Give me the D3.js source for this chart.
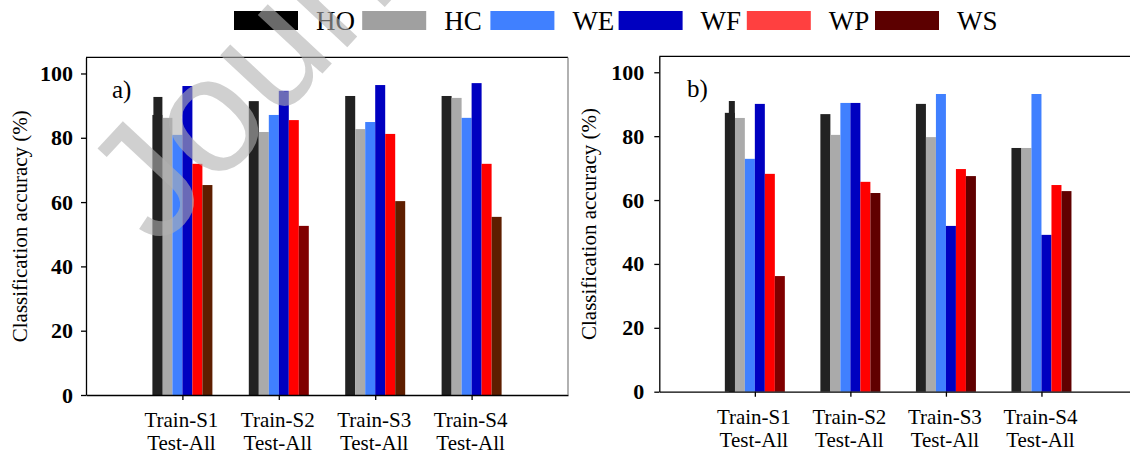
<!DOCTYPE html>
<html>
<head>
<meta charset="utf-8">
<script src="https://cdn.jsdelivr.net/npm/d3@7"></script>
<style>
  body { margin: 0; background: #fff; }
  svg { display: block; }
  text { font-family: "Liberation Serif", "Times New Roman", serif; }
</style>
</head>
<body>
<svg width="1130" height="456"></svg>
<script>
// ---- data ----
var groups = ["Train-S1", "Train-S2", "Train-S3", "Train-S4"];
var testLabel = "Test-All";
var series = ["HO", "HC", "WE", "WF", "WP", "WS"];
var yTicks = [0, 20, 40, 60, 80, 100];

// panel a
var hoA  = [87.1, 91.4, 93.0, 93.0];
var hoA2 = [92.7, null, null, null];   // second (overlapping) HO bar
var hcA  = [86.2, 81.8, 82.7, 92.4];
var weA  = [80.9, 87.1, 84.9, 86.2];
var wfA  = [96.1, 94.6, 96.4, 97.0];
var wpA  = [71.9, 85.5, 81.2, 71.9];
var wsA  = [65.3, 52.6, 60.3, 55.4];

// panel b
var hoB  = [87.3, 86.9, 90.1, 76.3];
var hoB2 = [91.0, null, null, null];
var hcB  = [85.7, 80.4, 79.7, 76.3];
var weB  = [72.9, 90.4, 93.2, 93.2];
var wfB  = [90.1, 90.4, 51.9, 49.1];
var wpB  = [68.2, 65.7, 69.7, 64.7];
var wsB  = [36.2, 62.2, 67.5, 62.8];

var barColors = ["#222222", "#aaaaaa", "#4080ff", "#0000c0", "#ff0000"];
var legendColors = ["#000000", "#a0a0a0", "#4080ff", "#0000c0", "#ff4040", "#5c0000"];

var svg = d3.select("svg");

function drawPanel(cfg) {
  var x = d3.scaleLinear().domain([0, 5]).range([cfg.left, cfg.right]);
  var y = d3.scaleLinear().domain([0, 105]).range([cfg.bottom, cfg.top]);
  var barW = 10;
  var g = svg.append("g");

  var rows = [];
  cfg.values.forEach(function(vals, k) {
    vals.forEach(function(v, i) {
      var c = k < 5 ? barColors[k] : (cfg.wsAlt[i] || cfg.wsColor);
      rows.push({ k: k, i: i, v: v, color: c });
    });
  });

  g.selectAll("rect.bar").data(rows).enter().append("rect")
    .attr("class", "bar")
    .attr("x", function(d) { return x(d.i + 1) + (d.k - 3) * barW; })
    .attr("y", function(d) { return y(d.v); })
    .attr("width", barW)
    .attr("height", function(d) { return y(0) - y(d.v); })
    .attr("fill", function(d) { return d.color; });

  // overlapping duplicate HO bar
  var extra = cfg.ho2.map(function(v, i) { return { i: i, v: v }; }).filter(function(d) { return d.v != null; });
  g.selectAll("rect.extra").data(extra).enter().append("rect")
    .attr("x", function(d) { return x(d.i + 1) - 3 * barW + cfg.ho2Shift * barW; })
    .attr("y", function(d) { return y(d.v); })
    .attr("width", barW * (1 - cfg.ho2Shift))
    .attr("height", function(d) { return y(0) - y(d.v); })
    .attr("fill", barColors[0]);

  // axes
  var ya = g.append("g").attr("transform", "translate(" + cfg.left + ",0)")
    .call(d3.axisLeft(y).tickValues(yTicks).tickSize(5).tickSizeOuter(0).tickPadding(cfg.pad));
  ya.attr("font-family", null);
  ya.selectAll("text").style("font-family", "'Liberation Serif', serif").style("font-size", "22px")
    .style("font-weight", "bold").attr("fill", "#000");
  ya.selectAll("line, path").attr("stroke", "#000").attr("stroke-width", 1.3);

  var xa = g.append("g").attr("transform", "translate(0," + cfg.bottom + ")")
    .call(d3.axisBottom(x).tickValues([1, 2, 3, 4]).tickSize(5).tickSizeOuter(0).tickFormat(""));
  xa.selectAll("line, path").attr("stroke", "#000").attr("stroke-width", 1.3);

  groups.forEach(function(name, i) {
    var t = g.append("text")
      .attr("x", x(i + 1) - 1)
      .attr("text-anchor", "middle")
      .style("font-size", "21px");
    t.append("tspan").attr("x", x(i + 1) - 1).attr("y", cfg.bottom + 32).text(name);
    t.append("tspan").attr("x", x(i + 1) - 1).attr("y", cfg.bottom + 55).text(testLabel);
  });

  // frame
  g.append("line").attr("x1", x(0)).attr("x2", x(5)).attr("y1", y(105)).attr("y2", y(105))
    .attr("stroke", "#000").attr("stroke-width", 1.3);
  g.append("line").attr("x1", x(5)).attr("x2", x(5)).attr("y1", y(105)).attr("y2", y(0))
    .attr("stroke", "#888").attr("stroke-width", 1.3);

  g.append("text")
    .attr("transform", "translate(" + cfg.labelX + "," + ((cfg.top + cfg.bottom) / 2) + ") rotate(-90)")
    .attr("text-anchor", "middle")
    .style("font-size", "21px")
    .text("Classification accuracy (%)");

  g.append("text").attr("x", cfg.tagX).attr("y", cfg.tagY)
    .style("font-size", "25px").text(cfg.tag);
}

drawPanel({
  left: 86, right: 568, top: 57.4, bottom: 395, pad: 8,
  values: [hoA, hcA, weA, wfA, wpA, wsA], ho2: hoA2, ho2Shift: 0.1,
  wsColor: "#5e1e00", wsAlt: [null, "#800000", null, null],
  labelX: 27, tag: "a)", tagX: 112, tagY: 98
});

drawPanel({
  left: 659.3, right: 1137, top: 56.3, bottom: 391.7, pad: 10,
  values: [hoB, hcB, weB, wfB, wpB, wsB], ho2: hoB2, ho2Shift: 0.4,
  wsColor: "#600000", wsAlt: ["#800000", null, null, null],
  labelX: 596, tag: "b)", tagX: 687, tagY: 97
});

// legend
var leg = svg.append("g");
series.forEach(function(s, i) {
  var lx = 234 + i * 128.2;
  leg.append("rect").attr("x", lx).attr("y", 11).attr("width", 64).attr("height", 19)
    .attr("fill", legendColors[i]);
  leg.append("text").attr("x", lx + 82).attr("y", 30).style("font-size", "27px").text(s);
});

// watermark (only the start of it is inside the figure)
svg.append("text")
  .attr("transform", "translate(158,250) rotate(-47)")
  .style("font-family", "'Liberation Sans', Arial, sans-serif")
  .style("font-size", "165px")
  .attr("fill", "rgb(177,177,177)")
  .attr("fill-opacity", 0.6)
  .text("Journ");
</script>
</body>
</html>
